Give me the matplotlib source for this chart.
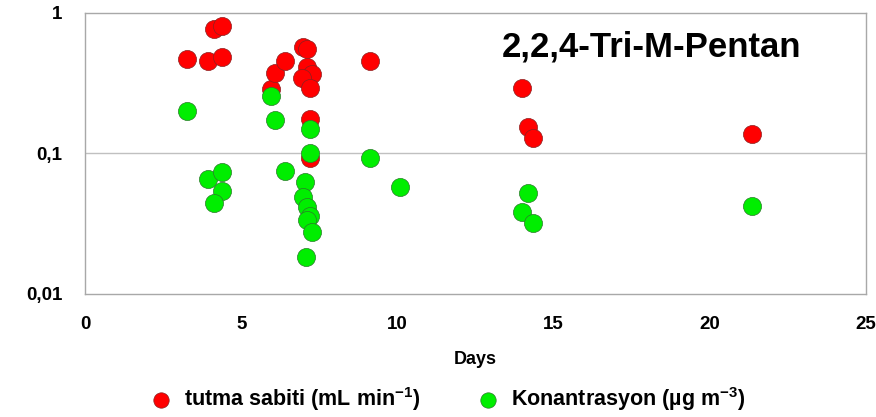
import numpy as np
import matplotlib
matplotlib.use("Agg")
import matplotlib.pyplot as plt
from matplotlib.ticker import FixedLocator, FixedFormatter, NullLocator

plt.rcParams["font.family"] = ["Liberation Sans", "DejaVu Sans"]
plt.rcParams["mathtext.fontset"] = "custom"
plt.rcParams["mathtext.bf"] = "Liberation Sans:bold"
plt.rcParams["mathtext.rm"] = "Liberation Sans:bold"
plt.rcParams["mathtext.default"] = "bf"

# tutma sabiti (mL/min) -- gün ve değer
gun_tutma = [3.27, 3.94, 4.13, 4.39, 4.39, 5.95, 6.08, 6.40,
             6.98, 7.10, 7.10, 7.27, 6.95, 7.20, 7.20, 7.20,
             9.12, 13.99, 14.18, 14.34, 21.35]
tutma = [0.471, 0.455, 0.77, 0.808, 0.486, 0.288, 0.374, 0.455,
         0.573, 0.554, 0.413, 0.368, 0.344, 0.292, 0.176, 0.093,
         0.455, 0.292, 0.154, 0.129, 0.138]

# konsantrasyon (ug/m3)
gun_kons = [3.27, 3.94, 4.39, 4.39, 4.13, 5.95, 6.08, 6.40,
            7.20, 7.20, 9.12, 10.08, 7.04, 6.98, 7.10, 7.20,
            7.10, 7.27, 7.07, 14.18, 13.99, 14.34, 21.35]
kons = [0.201, 0.0659, 0.0738, 0.054, 0.0444, 0.257, 0.173, 0.075,
        0.149, 0.101, 0.093, 0.0578, 0.0627, 0.049, 0.0416, 0.0359,
        0.0336, 0.0276, 0.0183, 0.0523, 0.0383, 0.032, 0.0423]

x_ticks = [0, 5, 10, 15, 20, 25]
y_ticks = [0.01, 0.1, 1]
y_labels = ["0,01", "0,1", "1"]

fig = plt.figure(figsize=(8.76, 4.17), dpi=100)
ax = fig.add_axes([0.097, 0.295, 0.8916, 0.674])

ax.scatter(gun_tutma, tutma, s=170, c="#ff0000", edgecolors="#8a2020",
           linewidths=0.5, zorder=3, label="tutma sabiti (mL min$^{-1}$)")
ax.scatter(gun_kons, kons, s=170, c="#00ee00", edgecolors="#2a7a2a",
           linewidths=0.5, zorder=4, label="Konantrasyon (µg m$^{-3}$)")

ax.set_yscale("log")
ax.set_xlim(0, 25)
ax.set_ylim(0.01, 1)
ax.xaxis.set_major_locator(FixedLocator(x_ticks))
ax.yaxis.set_major_locator(FixedLocator(y_ticks))
ax.yaxis.set_major_formatter(FixedFormatter(y_labels))
ax.yaxis.set_minor_locator(NullLocator())
ax.tick_params(length=0, labelsize=13.5, pad=16)
for lbl in ax.get_xticklabels() + ax.get_yticklabels():
    lbl.set_fontweight("bold")

ax.axhline(0.1, color="#c0c0c0", lw=1, zorder=1)
for sp in ax.spines.values():
    sp.set_color("#a8a8a8")
    sp.set_linewidth(1)

ax.set_xlabel("Days", fontsize=13, fontweight="bold", labelpad=13)
ax.text(0.534, 0.88, "2,2,4-Tri-M-Pentan", transform=ax.transAxes,
        fontsize=25, fontweight="bold", ha="left", va="center")

fig.legend(loc="center", bbox_to_anchor=(0.505, 0.044), ncol=2,
           frameon=False, prop={"size": 15.5, "weight": "bold"},
           handletextpad=0.05, columnspacing=2.15, markerscale=0.85)

fig.savefig("out.png", dpi=100)
